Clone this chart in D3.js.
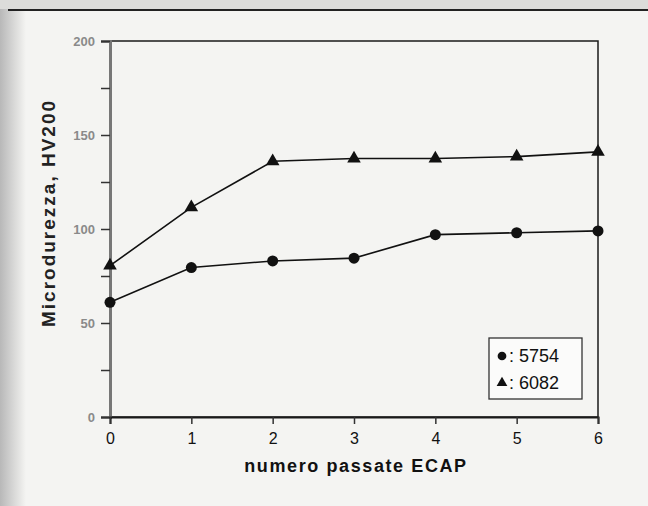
<!DOCTYPE html>
<html>
<head>
<meta charset="utf-8">
<script src="https://cdn.jsdelivr.net/npm/d3@7"></script>
<style>
  body { margin: 0; background: #f4f4f2; }
  svg { display: block; }
</style>
</head>
<body>
<div id="chart"></div>
<script>
// -- data
const passes = [0, 1, 2, 3, 4, 5, 6];
const hv5754 = [61, 79.5, 83, 84.5, 97, 98, 99];
const hv6082 = [80.5, 111.5, 136, 137.5, 137.5, 138.5, 141];
const yMajor = [0, 50, 100, 150, 200];
const yMinor = [25, 75, 125, 175];
const legendItems = ['5754', '6082'];

const W = 648, H = 506;
const margin = {top: 41, right: 50, bottom: 89, left: 110};
let w = W - margin.left - margin.right;
let h = H - margin.top - margin.bottom;

let svg = d3.select('#chart')
  .append('svg')
    .attr('width', W)
    .attr('height', H)

// scan background: grey strip on the left, page rule on top
let bg = svg.append('g').attr('id', 'bg');
let grad = svg.append('defs').append('linearGradient')
  .attr('id', 'leftFade').attr('x1', 0).attr('x2', 1);
grad.append('stop').attr('offset', 0).attr('stop-color', '#b8b8b8');
grad.append('stop').attr('offset', 1).attr('stop-color', '#f4f4f2');
bg.append('rect').attr('x', 0).attr('y', 0).attr('width', 26).attr('height', H)
  .attr('fill', 'url(#leftFade)');
bg.append('rect').attr('x', 0).attr('y', 0).attr('width', W).attr('height', 9)
  .attr('fill', '#dcdcda');
bg.append('line').attr('x1', 8).attr('x2', W).attr('y1', 10).attr('y2', 10)
  .attr('stroke', '#222').attr('stroke-width', 2);

let chart = svg.append('g')
  .attr('transform', `translate(${margin.left}, ${margin.top})`);

let x = d3.scaleLinear().domain([0, 6]).range([0, w]);
let y = d3.scaleLinear().domain([0, 200]).range([h, 0]);

// frame
chart.append('rect')
  .attr('width', w).attr('height', h)
  .attr('fill', 'none').attr('stroke', '#1a1a1a').attr('stroke-width', 1.5);

// y axis (major ticks labelled, minor ticks bare)
let yAxisCont = chart.append('g').attr('class', 'axis');
yAxisCont.call(d3.axisLeft(y).tickValues(yMajor).tickSize(9).tickPadding(6))
yAxisCont.append('g')
  .call(d3.axisLeft(y).tickValues(yMinor).tickSize(9).tickFormat(''))
  .select('.domain').remove();
yAxisCont.selectAll('.domain').attr('stroke', '#777').attr('stroke-width', 3);
yAxisCont.selectAll('.tick line').attr('stroke', '#333').attr('stroke-width', 1.5);
yAxisCont.selectAll('.tick text')
  .attr('fill', '#8a8a8a').style('font-family', 'Arial, Liberation Sans, sans-serif')
  .style('font-size', '13px').style('font-weight', 'bold');

// x axis
let xAxisCont = chart.append('g').attr('class', 'axis')
  .attr('transform', `translate(0, ${h})`);
xAxisCont.call(d3.axisBottom(x).tickValues(passes).tickFormat(d3.format('d')).tickSize(7).tickPadding(9));
xAxisCont.selectAll('.domain').attr('stroke', '#1a1a1a').attr('stroke-width', 2);
xAxisCont.selectAll('.tick line').attr('stroke', '#333').attr('stroke-width', 1.5);
xAxisCont.selectAll('.tick text')
  .attr('fill', '#111').style('font-family', 'Arial, Liberation Sans, sans-serif')
  .style('font-size', '16px');

// axis titles
chart.append('text')
  .attr('x', w / 2 + 2).attr('y', h + 55)
  .attr('text-anchor', 'middle')
  .style('font-family', 'Arial, Liberation Sans, sans-serif')
  .style('font-size', '18px').style('font-weight', 'bold')
  .style('letter-spacing', '1.6px').attr('fill', '#111')
  .text('numero passate ECAP');

chart.append('text')
  .attr('transform', `translate(${-55}, ${y(100) - 16}) rotate(-90)`)
  .attr('text-anchor', 'middle')
  .style('font-family', 'Arial, Liberation Sans, sans-serif')
  .style('font-size', '19px').style('font-weight', 'bold')
  .style('letter-spacing', '2px').attr('fill', '#222')
  .text('Microdurezza, HV200');

// series
let line = d3.line()
  .x((d, i) => x(passes[i]))
  .y(d => y(d));

[hv5754, hv6082].forEach((series, k) => {
  chart.append('path')
    .attr('d', line(series))
    .attr('fill', 'none').attr('stroke', '#111').attr('stroke-width', 1.6);
  chart.append('g').selectAll('path')
    .data(series)
    .enter()
    .append('path')
      .attr('transform', (d, i) => `translate(${x(passes[i])}, ${y(d)})`)
      .attr('d', d3.symbol().type(k === 0 ? d3.symbolCircle : d3.symbolTriangle).size(k === 0 ? 95 : 80))
      .attr('fill', '#111');
});

// legend
let legend = chart.append('g')
  .attr('transform', `translate(${x(6) - 109}, ${y(0) - 79})`);
legend.append('rect')
  .attr('width', 93).attr('height', 61)
  .attr('fill', '#fbfbfa').attr('stroke', '#333').attr('stroke-width', 1.3);
legendItems.forEach((name, i) => {
  let g = legend.append('g').attr('transform', `translate(13, ${18 + i * 27})`);
  g.append('path')
    .attr('d', d3.symbol().type(i === 0 ? d3.symbolCircle : d3.symbolTriangle).size(i === 0 ? 60 : 50))
    .attr('fill', '#111');
  g.append('text')
    .attr('x', 7).attr('y', 6)
    .style('font-family', 'Arial, Liberation Sans, sans-serif')
    .style('font-size', '18px').attr('fill', '#111')
    .text(': ' + name);
});
</script>
</body>
</html>
